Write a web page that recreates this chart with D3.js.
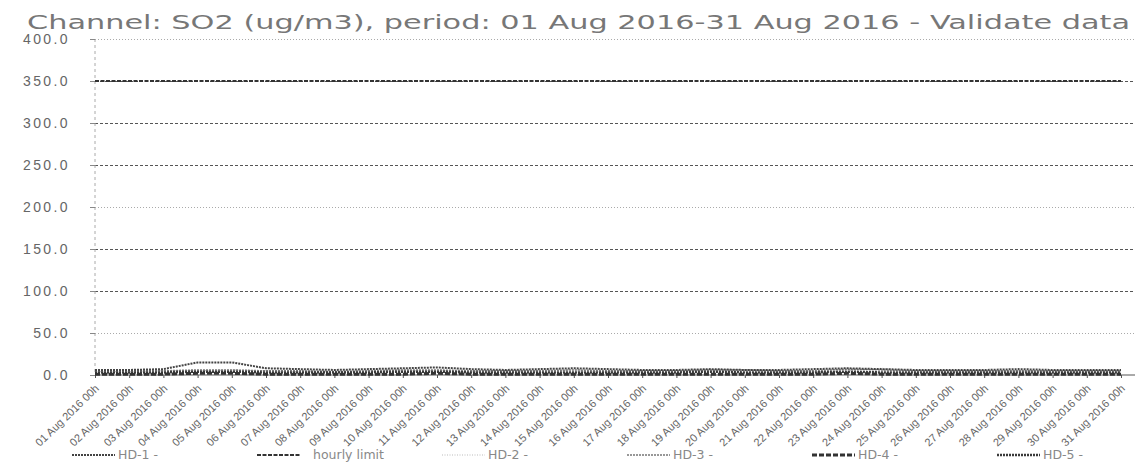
<!DOCTYPE html>
<html>
<head>
<meta charset="utf-8">
<script src="https://cdn.jsdelivr.net/npm/d3@7"></script>
<style>
  body { margin: 0; background: #fff; }
  svg { display: block; font-family: "DejaVu Sans", sans-serif; }
  .grid line { stroke: #555; stroke-dasharray: 3,2; }
  .grid .light line { stroke: #aaa; stroke-dasharray: 1,2; }
  .grid path { display: none; }
  .y.axis text { fill: #666; font-size: 14px; letter-spacing: 2.4px; }
  .x.axis text { fill: #666; font-size: 11px; }
  .x.axis path, .x.axis line { stroke: #555; }
  .line { fill: none; }
</style>
</head>
<body>
<div id="chart"></div>
<script>
// tick labels / categories (days of August 2016)
const days = [1, 2, 3, 4, 5, 6, 7, 8, 9, 10, 11, 12, 13, 14, 15, 16,
              17, 18, 19, 20, 21, 22, 23, 24, 25, 26, 27, 28, 29, 30, 31];
const yTicks = [0, 50, 100, 150, 200, 250, 300, 350, 400];
const legendNames = ["HD-1 -", "hourly limit", "HD-2 -", "HD-3 -", "HD-4 -", "HD-5 -"];

// SO2 values (ug/m3)
const hd1 = [6, 6, 7, 15, 15, 8, 7, 6, 7, 8, 9, 7, 6, 7, 8, 7, 6, 6, 7, 6, 6, 7, 8, 7, 6, 6, 6, 7, 6, 6, 6];
const hourlyLimit = [350, 350, 350, 350, 350, 350, 350, 350, 350, 350, 350, 350, 350, 350, 350, 350,
                     350, 350, 350, 350, 350, 350, 350, 350, 350, 350, 350, 350, 350, 350, 350];
const hd2 = [4, 4, 5, 5, 6, 5, 4, 4, 5, 5, 5, 4, 4, 5, 5, 4, 4, 5, 5, 5, 4, 4, 5, 8, 5, 4, 4, 5, 4, 4, 4];
const hd3 = [5, 5, 5, 6, 6, 5, 5, 4, 5, 6, 6, 5, 5, 5, 6, 5, 5, 5, 6, 6, 5, 5, 7, 6, 5, 5, 5, 5, 5, 5, 5];
const hd4 = [1, 1, 1, 2, 2, 1, 1, 1, 1, 1, 2, 1, 1, 1, 1, 1, 1, 1, 1, 1, 1, 1, 2, 1, 1, 1, 1, 1, 1, 1, 1];
const hd5 = [3, 3, 3, 4, 4, 3, 3, 3, 3, 4, 4, 3, 3, 3, 3, 3, 3, 3, 4, 3, 3, 3, 4, 3, 3, 3, 3, 3, 3, 3, 3];

// line look for each series (same order as legendNames)
const styles = [
  { color: "#444", width: 2,   dash: "2,1" },
  { color: "#333", width: 2,   dash: "4,1.5" },
  { color: "#bbb", width: 1,   dash: "1,1.5" },
  { color: "#777", width: 1.5, dash: "2,1" },
  { color: "#333", width: 3,   dash: "5,2" },
  { color: "#3a3a3a", width: 2.5, dash: "2,1" }
];
const seriesValues = [hd1, hourlyLimit, hd2, hd3, hd4, hd5];

const width = 1135, height = 472;
const margin = { top: 39, right: 0, bottom: 97, left: 95 };

const svg = d3.select("#chart").append("svg")
    .attr("width", width)
    .attr("height", height);

const dateOf = d => new Date(2016, 7, d);

const x = d3.scaleTime()
    .domain([dateOf(1), dateOf(32)])
    .range([margin.left, margin.left + 31 * 34.2]);

const y = d3.scaleLinear()
    .domain([0, 400])
    .range([height - margin.bottom, margin.top]);

// gridlines
const grid = svg.append("g")
    .attr("class", "grid")
    .attr("transform", `translate(${margin.left},0)`)
    .call(d3.axisLeft(y).tickValues(yTicks).tickSize(-(width - margin.left)).tickFormat(""));
grid.selectAll(".tick").classed("light", d => d === 200 || d === 400 || d === 50);
grid.selectAll(".tick").filter(d => d === 0).remove();

// y axis (dashed vertical line + labels)
svg.append("line")
    .attr("x1", margin.left).attr("x2", margin.left)
    .attr("y1", y(400)).attr("y2", y(0))
    .attr("stroke", "#aaa")
    .attr("stroke-dasharray", "3,3");

const yAxis = svg.append("g")
    .attr("class", "y axis")
    .attr("transform", `translate(${margin.left},0)`)
    .call(d3.axisLeft(y).tickValues(yTicks).tickSize(5).tickPadding(20).tickFormat(d3.format(".1f")));
yAxis.select(".domain").remove();
yAxis.selectAll("line").attr("stroke", "#888");

// x axis
const fmt = d3.timeFormat("%d %b %Y %Hh");
const xAxis = svg.append("g")
    .attr("class", "x axis")
    .attr("transform", `translate(0,${y(0)})`)
    .call(d3.axisBottom(x).tickValues(days.map(dateOf)).tickSize(3).tickFormat(fmt));
xAxis.select(".domain").attr("d", `M${margin.left},0H${width}`);
xAxis.selectAll("text")
    .attr("text-anchor", "end")
    .attr("dy", 0)
    .attr("transform", "translate(0,10) rotate(-44)");

// series
const line = d3.line()
    .x((d, i) => x(dateOf(days[i])))
    .y(d => y(d));

const drawOrder = [1, 2, 3, 0, 5, 4];
drawOrder.forEach(k => {
  svg.append("path")
      .datum(seriesValues[k])
      .attr("class", "line")
      .attr("d", line)
      .attr("stroke", styles[k].color)
      .attr("stroke-width", styles[k].width)
      .attr("stroke-dasharray", styles[k].dash);
});

// title
svg.append("text")
    .attr("x", 27)
    .attr("y", 29)
    .attr("textLength", 1103)
    .attr("lengthAdjust", "spacingAndGlyphs")
    .attr("fill", "#777")
    .style("font-size", "19px")
    .text("Channel: SO2 (ug/m3), period: 01 Aug 2016-31 Aug 2016 - Validate data");

// legend
const legend = svg.append("g")
    .attr("transform", "translate(72,455)");

const item = legend.selectAll("g")
    .data(legendNames)
    .enter().append("g")
    .attr("transform", (d, i) => `translate(${i * 185},0)`);

item.append("line")
    .attr("x1", 0).attr("x2", 43)
    .attr("stroke", (d, i) => styles[i].color)
    .attr("stroke-width", (d, i) => styles[i].width)
    .attr("stroke-dasharray", (d, i) => styles[i].dash);

item.append("text")
    .attr("x", (d, i) => i === 1 ? 56 : 46)
    .attr("dy", "0.35em")
    .attr("fill", "#888")
    .style("font-size", "12.5px")
    .text(d => d);
</script>
</body>
</html>
